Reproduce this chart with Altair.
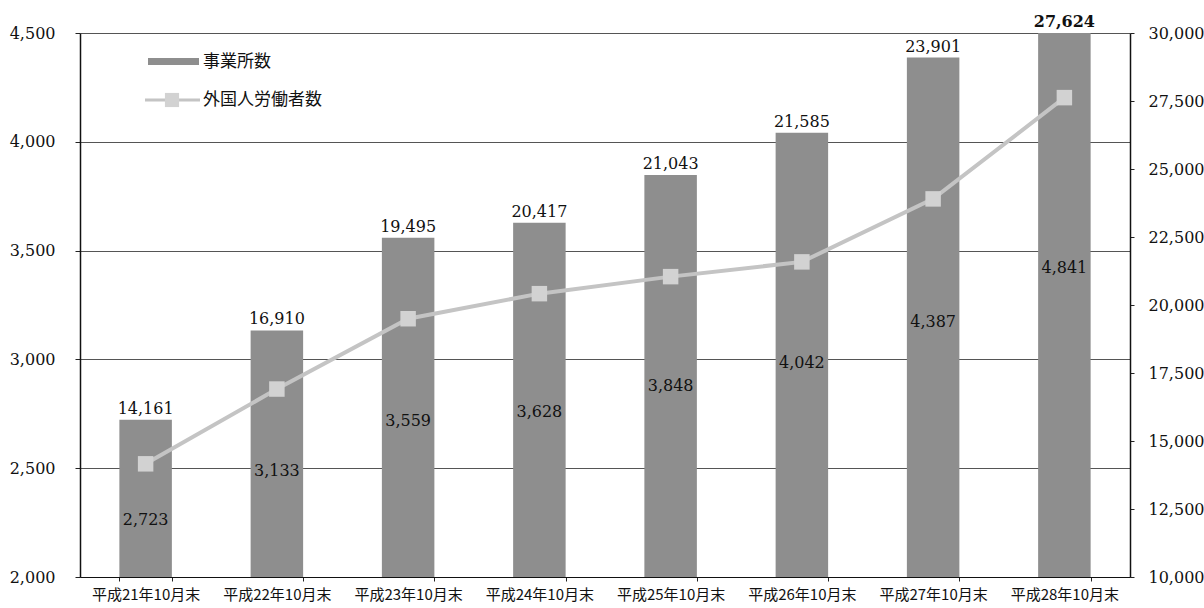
import altair as alt
import pandas as pd

categories = ["平成21年10月末", "平成22年10月末", "平成23年10月末", "平成24年10月末",
              "平成25年10月末", "平成26年10月末", "平成27年10月末", "平成28年10月末"]
offices = [2723, 3133, 3559, 3628, 3848, 4042, 4387, 4841]
workers = [14161, 16910, 19495, 20417, 21043, 21585, 23901, 27624]
left_ticks = [2000, 2500, 3000, 3500, 4000, 4500]
right_ticks = [10000, 12500, 15000, 17500, 20000, 22500, 25000, 27500, 30000]

df = pd.DataFrame({"cat": categories, "offices": offices, "workers": workers})

SERIF = "DejaVu Serif"
CJK = "Noto Sans CJK JP"
LMIN, LMAX = 2000, 4500
FMT = "format(datum.value, ',')"

base = alt.Chart(df)
xenc = alt.X("cat:N", sort=categories, title=None,
             scale=alt.Scale(paddingInner=0.6, paddingOuter=0.3),
             axis=alt.Axis(labelAngle=0, labelFont=CJK, labelFontSize=15, labelColor="#111",
                           tickBand="extent", tickSize=4, tickColor="#222", labelPadding=6,
                           domainColor="#111", domainWidth=1.2))
xplain = alt.X("cat:N", sort=categories, title=None)

yleft = alt.Scale(domain=[LMIN, LMAX], nice=False, zero=False)

bars = base.mark_bar(color="#8e8e8e", clip=True).encode(
    x=xenc,
    y=alt.Y("offices:Q", scale=yleft, title=None,
            axis=alt.Axis(values=left_ticks, labelExpr=FMT, labelFont=SERIF, labelFontSize=16,
                          labelColor="#111", tickSize=5, tickColor="#222", labelPadding=20,
                          domainColor="#111", domainWidth=1.5, grid=True, gridColor="#555",
                          gridWidth=1)),
    y2=alt.datum(LMIN),
)

top_labels = base.transform_calculate(
    ytop=f"min(datum.offices, {LMAX})"
).transform_filter(
    f"datum.cat != '{categories[-1]}'"
).mark_text(font=SERIF, fontSize=16, color="#111", baseline="alphabetic", dy=-6).encode(
    x=xplain,
    y=alt.Y("ytop:Q", scale=yleft, title=None),
    text=alt.Text("workers:Q", format=","),
)

top_label_last = base.transform_calculate(
    ytop=f"min(datum.offices, {LMAX})"
).transform_filter(
    f"datum.cat == '{categories[-1]}'"
).mark_text(font=SERIF, fontSize=16, fontWeight="bold", color="#111",
            baseline="alphabetic", dy=-6).encode(
    x=xplain,
    y=alt.Y("ytop:Q", scale=yleft, title=None),
    text=alt.Text("workers:Q", format=","),
)

inner_labels = base.transform_calculate(
    ymid="0.547 * datum.offices + 772"
).mark_text(font=SERIF, fontSize=16, color="#111").encode(
    x=xplain,
    y=alt.Y("ymid:Q", scale=yleft, title=None),
    text=alt.Text("offices:Q", format=","),
)

left_group = alt.layer(bars, top_labels, top_label_last, inner_labels)

yright = alt.Scale(domain=[10000, 30000], nice=False, zero=False)
right_axis = alt.Axis(values=right_ticks, labelExpr=FMT, orient="right", labelFont=SERIF,
                      labelFontSize=16, labelColor="#111", tickSize=4, tickColor="#222",
                      labelPadding=14, domainColor="#111", domainWidth=1.5, grid=False)

line = base.mark_line(color="#c4c4c4", strokeWidth=4).encode(
    x=xplain,
    y=alt.Y("workers:Q", scale=yright, title=None, axis=right_axis),
)
points = base.mark_point(shape="square", filled=True, size=240, color="#d2d2d2",
                         opacity=1).encode(
    x=xplain,
    y=alt.Y("workers:Q", scale=yright, title=None),
)
right_group = alt.layer(line, points)

leg_df = pd.DataFrame({"k": [0]})
leg = alt.Chart(leg_df)
leg_bar = leg.mark_rect(color="#8e8e8e").encode(
    x=alt.value(68), x2=alt.value(119), y=alt.value(25), y2=alt.value(32))
leg_bar_txt = leg.mark_text(font=CJK, fontSize=17, align="left", baseline="middle",
                            color="#111").encode(
    x=alt.value(123), y=alt.value(29), text=alt.value("事業所数"))
leg_line = leg.mark_rule(color="#c4c4c4", strokeWidth=3).encode(
    x=alt.value(65), x2=alt.value(120), y=alt.value(67))
leg_pt = leg.mark_point(shape="square", filled=True, size=200, color="#d2d2d2",
                        opacity=1).encode(x=alt.value(92), y=alt.value(67))
leg_line_txt = leg.mark_text(font=CJK, fontSize=17, align="left", baseline="middle",
                             color="#111").encode(
    x=alt.value(123), y=alt.value(67), text=alt.value("外国人労働者数"))
legend = alt.layer(leg_bar, leg_bar_txt, leg_line, leg_pt, leg_line_txt)

chart = alt.layer(left_group, right_group, legend).resolve_scale(
    y="independent"
).properties(
    width=1050, height=544,
    padding={"left": 80, "top": 33, "right": 74, "bottom": 31},
    autosize=alt.AutoSizeParams(type="none"),
    background="white",
).configure_view(stroke=None)

chart.save("out.html", embed_options={"renderer": "svg", "actions": False})
